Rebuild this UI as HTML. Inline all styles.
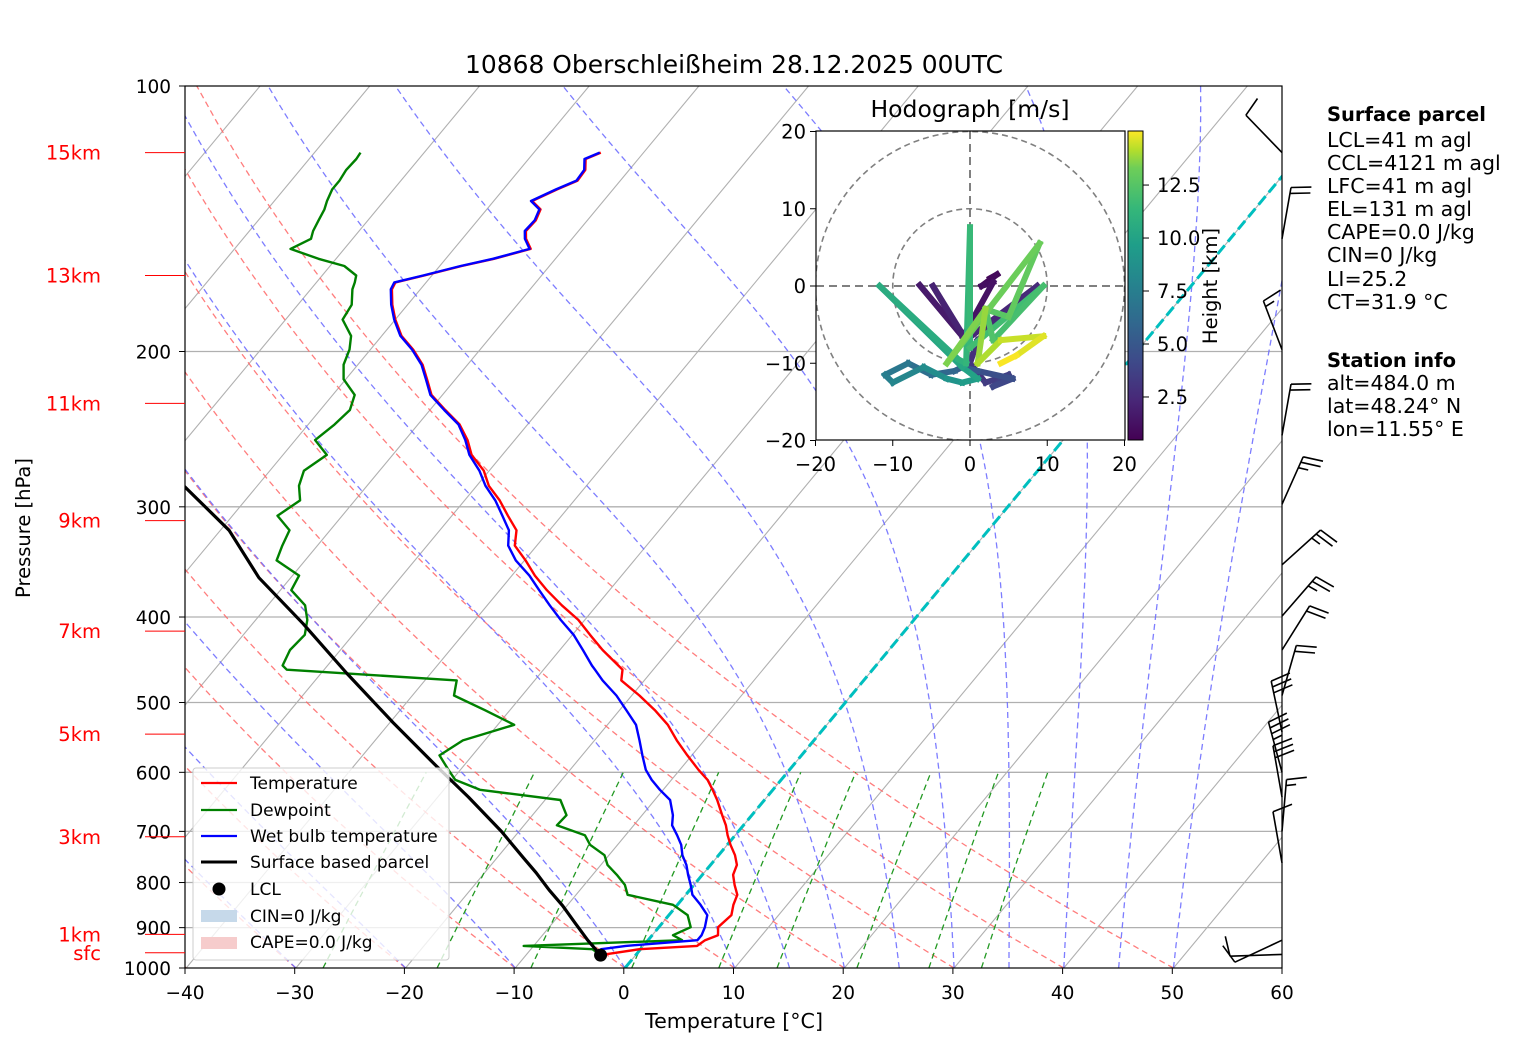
<!DOCTYPE html>
<html><head><meta charset="utf-8"><style>
html,body{margin:0;padding:0;background:#fff;}
svg{display:block;font-family:"DejaVu Sans","Liberation Sans",sans-serif;}
</style></head><body>
<svg id="c" width="1517" height="1054" viewBox="0 0 1517 1054" xmlns="http://www.w3.org/2000/svg">
<defs>
<clipPath id="plotclip"><rect x="185" y="86" width="1097" height="882"/></clipPath>
<clipPath id="hodoclip"><rect x="816" y="131" width="309" height="309"/></clipPath>
<linearGradient id="vir" x1="0" y1="1" x2="0" y2="0">
<stop offset="0" stop-color="#440154"/><stop offset="0.13" stop-color="#482878"/><stop offset="0.25" stop-color="#3e4989"/><stop offset="0.38" stop-color="#31688e"/><stop offset="0.5" stop-color="#26828e"/><stop offset="0.63" stop-color="#1f9e89"/><stop offset="0.75" stop-color="#35b779"/><stop offset="0.88" stop-color="#6ece58"/><stop offset="0.94" stop-color="#b5de2b"/><stop offset="1" stop-color="#fde725"/>
</linearGradient>
</defs>
<rect x="0" y="0" width="1517" height="1054" fill="#fff"/>
<g id="bg" clip-path="url(#plotclip)"></g>
<g id="prof" clip-path="url(#plotclip)"></g>
<rect x="185" y="86" width="1097" height="882" fill="none" stroke="#000" stroke-width="1.2"/>
<g id="axes"></g>
<text x="734" y="73" font-size="25" text-anchor="middle" textLength="538" lengthAdjust="spacingAndGlyphs">10868 Oberschleißheim 28.12.2025 00UTC</text>
<text x="734" y="1028" font-size="20" text-anchor="middle" textLength="178" lengthAdjust="spacingAndGlyphs">Temperature [°C]</text>
<text x="30" y="528" font-size="19.5" text-anchor="middle" transform="rotate(-90 30 528)">Pressure [hPa]</text>
<g id="barbs"></g>
<g id="hodo">
<rect x="816" y="131" width="309" height="309" fill="#fff"/>
</g>
<g id="legend">
<rect x="193" y="768" width="256" height="192" rx="3" fill="#fff" fill-opacity="0.8" stroke="#ccc"/>
<line x1="201" y1="783" x2="237" y2="783" stroke="red" stroke-width="2.2"/>
<text x="250" y="789" font-size="17">Temperature</text>
<line x1="201" y1="810" x2="237" y2="810" stroke="green" stroke-width="2.2"/>
<text x="250" y="816" font-size="17">Dewpoint</text>
<line x1="201" y1="836" x2="237" y2="836" stroke="blue" stroke-width="2.2"/>
<text x="250" y="842" font-size="17">Wet bulb temperature</text>
<line x1="201" y1="862" x2="237" y2="862" stroke="#000" stroke-width="3"/>
<text x="250" y="868" font-size="17">Surface based parcel</text>
<circle cx="219" cy="889" r="6.5" fill="#000"/>
<text x="250" y="895" font-size="17">LCL</text>
<rect x="201" y="910" width="36" height="12" fill="#c6d9ea"/>
<text x="250" y="922" font-size="17">CIN=0 J/kg</text>
<rect x="201" y="937" width="36" height="12" fill="#f6cccc"/>
<text x="250" y="948" font-size="17">CAPE=0.0 J/kg</text>
</g>
<g id="info" font-size="20.5">
<text x="1327" y="121" font-weight="bold" font-size="19.5">Surface parcel</text>
<text x="1327" y="147">LCL=41 m agl</text>
<text x="1327" y="170">CCL=4121 m agl</text>
<text x="1327" y="193">LFC=41 m agl</text>
<text x="1327" y="216">EL=131 m agl</text>
<text x="1327" y="239">CAPE=0.0 J/kg</text>
<text x="1327" y="262">CIN=0 J/kg</text>
<text x="1327" y="286">LI=25.2</text>
<text x="1327" y="309">CT=31.9 °C</text>
<text x="1327" y="367" font-weight="bold" font-size="19.5">Station info</text>
<text x="1327" y="390">alt=484.0 m</text>
<text x="1327" y="413">lat=48.24° N</text>
<text x="1327" y="436">lon=11.55° E</text>
</g>
</svg>
<script>
// ---- sounding data ----
const levelsP = [967,952,944,930,918,899,871,848,826,805,784,764,745,725,707,689,671,645,628,612,596,574,552,530,510,491,472,459,454,436,419,403,388,373,359,345,332,319,307,295,284,273,262,252,242,233,224,215,207,199,192,184,177,170,167,164,160,157,153,149,146,142,138,135,131,128,124.5,121,119];
const tempC = [-3.2,-0.1,4.9,5.2,6.0,5.4,5.7,5.1,4.7,3.7,2.8,2.4,1.5,0.3,-0.7,-1.6,-2.7,-4.3,-5.5,-6.7,-8.3,-10.4,-12.5,-14.5,-16.8,-19.3,-22.1,-22.8,-23.5,-26.1,-28.4,-30.6,-33.2,-35.7,-37.9,-39.9,-42.0,-43.0,-44.9,-46.8,-48.9,-50.5,-52.8,-54.3,-56.2,-58.6,-61.0,-62.6,-64.1,-66.1,-68.2,-70.0,-71.4,-72.6,-72.8,-70.7,-68.0,-65.6,-63.0,-64.2,-64.8,-64.7,-65.1,-66.5,-65.1,-63.9,-64.0,-64.8,-63.9];
const wetbulbC = [-3.2,-3.6,-1.6,4.5,4.5,4.2,3.5,2.1,0.6,-0.3,-1.3,-2.2,-3.3,-4.2,-5.3,-6.5,-7.2,-8.6,-10.3,-11.8,-13.1,-14.5,-15.9,-17.4,-19.4,-21.4,-23.8,-25.3,-25.9,-27.9,-29.9,-32.2,-34.3,-36.4,-38.4,-40.8,-42.6,-43.7,-45.4,-47.2,-49.2,-50.9,-53.0,-54.5,-56.3,-58.7,-61.1,-62.7,-64.2,-66.2,-68.3,-70.1,-71.5,-72.7,-72.9,-70.8,-68.1,-65.7,-63.1,-64.3,-64.9,-64.8,-65.2,-66.6,-65.2,-64.0,-64.1,-64.9,-64.0];
const dewpointC = [-3.2,-4.4,-10.9,3.1,1.9,2.9,1.7,-0.4,-5.3,-6.3,-7.8,-9.4,-10.4,-12.5,-13.7,-17.0,-16.9,-18.6,-26.7,-29.7,-31.1,-33.0,-32.0,-28.5,-32.3,-36.2,-37.1,-53.4,-54.1,-54.6,-54.4,-55.3,-56.6,-59.0,-59.4,-62.6,-63.2,-63.7,-65.9,-65.0,-66.2,-66.9,-66.0,-68.2,-67.6,-67.3,-68.0,-70.2,-71.3,-71.9,-72.8,-74.8,-75.1,-76.2,-76.5,-76.9,-78.7,-81.6,-84.9,-83.8,-84.2,-84.5,-84.8,-85.2,-85.6,-85.6,-85.8,-85.7,-85.8];
const parcelP = [967,930,890,850,816,780,750,700,640,590,527,463,407,361,319,284];
const parcelT = [-3.2,-5.5,-7.9,-10.4,-12.8,-15.3,-17.6,-21.6,-27.2,-32.5,-39.7,-47.7,-55.4,-62.9,-69.2,-76.7];
const lclP = [967];
const lclT = [-3.2];
// wind barbs
const barbP = [119,149,199,249,298,349,399,436,491,540,600,640,700,760,930,965];
const barbDir = [316,10,339,10,24,48,41,32,16,348,345,350,5,350,245,268];
const barbSpd = [10,20,15,20,25,25,25,20,20,30,35,30,15,10,10,10];
// hodograph
const hodoH = [0.5,0.7,0.9,1.1,1.3,1.5,1.7,1.9,2.1,2.3,2.5,2.8,3.1,3.4,3.7,4.0,4.5,5.0,5.5,6.0,6.5,7.0,7.5,8.0,8.5,9.0,9.5,10.0,10.3,10.6,11.0,11.3,11.5,11.8,12.0,12.3,12.6,12.9,13.2,13.5,13.8,14.1,14.4,14.7,15.0];
const hodoU = [2.6,3.5,1.5,3,-0.9,-6.5,-0.9,-4.8,-0.5,8.7,1,0,2,5,3,5.5,1,-1,-2,-5,-8,-11,-10,-6,-3,-1,1,-1,-11.7,-1.5,-0.5,0,0,9.5,3,2,5,9,-3,2,1,4,9.5,6,4];
const hodoV = [1.0,1.5,0,0.5,-6.6,0.1,-6.6,0,-7,0,-7,-10,-12.5,-11.5,-13,-12,-11,-10.5,-11,-11.5,-10,-11.5,-12.5,-10.5,-12,-12.5,-12,-10.5,0,-9.5,-10,7.6,-8,0,-7,-3,-4,5.5,-10,-3,-10,-7,-6.5,-9,-10];
const xTicks = [-40,-30,-20,-10,0,10,20,30,40,50,60];
const pTicks = [100,200,300,400,500,600,700,800,900,1000];
const kmLabels = ['15km','13km','11km','9km','7km','5km','3km','1km','sfc'];
const kmP = [119,164,229,311,415,543,710,916,961];

const NS='http://www.w3.org/2000/svg';
function mk(parent,tag,at){const e=document.createElementNS(NS,tag);for(const k in at)e.setAttribute(k,at[k]);parent.appendChild(e);return e;}
function yP(p){return 86+882*Math.log10(p/100);}
function xT(T,p){return 625+T*10.97+(968-yP(p))*0.83;}
const bg=document.getElementById('bg'),prof=document.getElementById('prof'),ax=document.getElementById('axes');

for(let p=200;p<=900;p+=100){const l=mk(bg,'line',{x1:185,x2:1282,y1:yP(p),y2:yP(p),stroke:'#b0b0b0','stroke-width':1.3});

}
for(let T=-130;T<=60;T+=10){const l=mk(bg,'line',{x1:xT(T,1000),y1:yP(1000),x2:xT(T,100),y2:yP(100),stroke:'#b0b0b0','stroke-width':1.1});

}
for(let th=-40;th<=50;th+=10){let d='';for(let p=1000;p>=100;p-=10){const T=(th+273.15)*Math.pow(p/1000,0.2857)-273.15;d+=(p==1000?'M':'L')+xT(T,p).toFixed(1)+','+yP(p).toFixed(1);}
const l=mk(bg,'path',{d:d,fill:'none',stroke:'#ff6666','stroke-width':1.3,'stroke-dasharray':'6,4','stroke-opacity':0.85});

}
function es(Tc){return 6.112*Math.exp(17.67*Tc/(Tc+243.5));}
function dTdp(T,p){const Tc=T-273.15,e=es(Tc),rs=0.622*e/(p-e);return (287.04*T+2.501e6*rs)/(1005.7+2.501e6*2.501e6*rs*0.622/(287.04*T*T))/p;}
const moistT0=[-30,-20,-10,0,10,15,20,25,30,35,40,45,50];
moistT0.forEach(t0=>{let T=t0+273.15,d='';for(let p=1000;p>=100;p-=5){d+=(p==1000?'M':'L')+xT(T-273.15,p).toFixed(1)+','+yP(p).toFixed(1);const h=-5;const k1=dTdp(T,p),k2=dTdp(T+h*k1/2,p+h/2),k3=dTdp(T+h*k2/2,p+h/2),k4=dTdp(T+h*k3,p+h);T+=h*(k1+2*k2+2*k3+k4)/6;}
const l=mk(bg,'path',{d:d,fill:'none',stroke:'#6f6fff','stroke-width':1.3,'stroke-dasharray':'6,4','stroke-opacity':0.9});

});
const mixW=[0.0004,0.001,0.002,0.004,0.007,0.01,0.016,0.024,0.032];
mixW.forEach(w=>{let d='';for(let p=1000;p>=600;p-=10){const e=p*w/(0.622+w),a=Math.log(e/6.112),Td=243.5*a/(17.67-a);d+=(p==1000?'M':'L')+xT(Td,p).toFixed(1)+','+yP(p).toFixed(1);}
const l=mk(bg,'path',{d:d,fill:'none',stroke:'#229922','stroke-width':1.3,'stroke-dasharray':'6,4'});

});
const zi=mk(bg,'line',{x1:xT(0,1000),y1:yP(1000),x2:xT(0,100),y2:yP(100),stroke:'#00bfbf','stroke-width':3,'stroke-dasharray':'11,5'});



function line(P,T,color,w,name){let d='';P.forEach((p,i)=>{d+=(i?'L':'M')+xT(T[i],p).toFixed(1)+','+yP(p).toFixed(1);});
const l=mk(prof,'path',{d:d,fill:'none',stroke:color,'stroke-width':w,'stroke-linejoin':'round'});

}
line(levelsP,tempC,'red',2.4,'temperature-line');
line(levelsP,dewpointC,'green',2.4,'dewpoint-line');
line(levelsP,wetbulbC,'blue',2.4,'wetbulb-line');
line(parcelP,parcelT,'#000',3.2,'parcel-line');
lclP.forEach((p,i)=>{const c=mk(prof,'circle',{cx:xT(lclT[i],p),cy:yP(p),r:6.5,fill:'#000'});

});

xTicks.forEach(T=>{const x=185+(T+40)*10.97;
const t=mk(ax,'line',{x1:x,x2:x,y1:968,y2:974,stroke:'#000'});


const s=mk(ax,'text',{x:x,y:999,'font-size':18.5,'text-anchor':'middle'});s.textContent=(T<0?'\u2212'+(-T):T);

});
pTicks.forEach(p=>{const y=yP(p);
const t=mk(ax,'line',{x1:179,x2:185,y1:y,y2:y,stroke:'#000'});


const s=mk(ax,'text',{x:171,y:y+7,'font-size':18.5,'text-anchor':'end'});s.textContent=p;

});
kmLabels.forEach((k,i)=>{const y=yP(kmP[i]);
const t=mk(ax,'line',{x1:145,x2:185,y1:y,y2:y,stroke:'red','stroke-width':1});


const s=mk(ax,'text',{x:101,y:y+7,'font-size':19.5,'text-anchor':'end',fill:'red'});s.textContent=k;

});

const bb=document.getElementById('barbs');
barbP.forEach((p,i)=>{const bx=1282,by=yP(p),a=barbDir[i]*Math.PI/180,dx=Math.sin(a),dy=-Math.cos(a),L=52;
const tx=bx+dx*L,ty=by+dy*L,px=-dy,py=dx;let d='M'+bx+','+by.toFixed(1)+'L'+tx.toFixed(1)+','+ty.toFixed(1);
let s=barbSpd[i],k=0;while(s>=10){const ox=tx-dx*k*6,oy=ty-dy*k*6;d+='M'+ox.toFixed(1)+','+oy.toFixed(1)+'L'+(ox+px*20+dx*4).toFixed(1)+','+(oy+py*20+dy*4).toFixed(1);s-=10;k++;}
if(s>=5){const ox=tx-dx*(k||1)*6,oy=ty-dy*(k||1)*6;d+='M'+ox.toFixed(1)+','+oy.toFixed(1)+'L'+(ox+px*10+dx*2).toFixed(1)+','+(oy+py*10+dy*2).toFixed(1);}
const b=mk(bb,'path',{d:d,fill:'none',stroke:'#000','stroke-width':1.6});

});

const hg=document.getElementById('hodo');
const hx=u=>970+u*7.725,hy=v=>286-v*7.725;
const hin=mk(hg,'g',{'clip-path':'url(#hodoclip)'});
[10,20].forEach(r=>{const c=mk(hin,'circle',{cx:970,cy:286,r:r*7.725,fill:'none',stroke:'#808080','stroke-width':1.6,'stroke-dasharray':'6,4'});

});
const hl1=mk(hin,'line',{x1:816,x2:1125,y1:286,y2:286,stroke:'#808080','stroke-width':2,'stroke-dasharray':'8,5'});


const hl2=mk(hin,'line',{x1:970,x2:970,y1:131,y2:440,stroke:'#808080','stroke-width':2,'stroke-dasharray':'8,5'});


const vir=[[68,1,84],[72,40,120],[62,73,137],[49,104,142],[38,130,142],[31,158,137],[53,183,121],[110,206,88],[181,222,43],[253,231,37]];
const vs=[0,0.13,0.25,0.38,0.5,0.63,0.75,0.88,0.94,1];
function vcol(t){t=Math.max(0,Math.min(1,t));let i=0;while(i<vs.length-2&&t>vs[i+1])i++;const f=(t-vs[i])/(vs[i+1]-vs[i]);const c=vir[i].map((v,j)=>Math.round(v+(vir[i+1][j]-v)*f));return 'rgb('+c.join(',')+')';}
for(let i=1;i<hodoH.length;i++){const l=mk(hin,'line',{x1:hx(hodoU[i-1]),y1:hy(hodoV[i-1]),x2:hx(hodoU[i]),y2:hy(hodoV[i]),stroke:vcol((hodoH[i]-0.47)/14.58),'stroke-width':6,'stroke-linecap':'square'});

}
const hf=mk(hg,'rect',{x:816,y:131,width:309,height:309,fill:'none',stroke:'#000','stroke-width':1.2});


const ht=mk(hg,'text',{x:970,y:117,'font-size':23.5,'text-anchor':'middle'});ht.textContent='Hodograph [m/s]';


[-20,-10,0,10,20].forEach(v=>{const lab=v<0?'\u2212'+(-v):''+v;
const a=mk(hg,'line',{x1:hx(v),x2:hx(v),y1:440,y2:446,stroke:'#000'});


const s=mk(hg,'text',{x:hx(v),y:471,'font-size':19.5,'text-anchor':'middle'});s.textContent=lab;


const b=mk(hg,'line',{x1:810,x2:816,y1:hy(v),y2:hy(v),stroke:'#000'});


const s2=mk(hg,'text',{x:806,y:hy(v)+7,'font-size':19.5,'text-anchor':'end'});s2.textContent=lab;

});
const cb=mk(hg,'rect',{x:1128,y:131,width:15,height:309,fill:'url(#vir)',stroke:'#000','stroke-width':1});


[2.5,5.0,7.5,10.0,12.5].forEach(h=>{const y=440-(h-0.47)/14.58*309;
const t=mk(hg,'line',{x1:1143,x2:1149,y1:y,y2:y,stroke:'#000'});


const s=mk(hg,'text',{x:1157,y:y+7,'font-size':19.5});s.textContent=h.toFixed(1);

});
const cl=mk(hg,'text',{x:1217,y:286,'font-size':19.5,'text-anchor':'middle',transform:'rotate(-90 1217 286)'});cl.textContent='Height [km]';


</script>
</body></html>
